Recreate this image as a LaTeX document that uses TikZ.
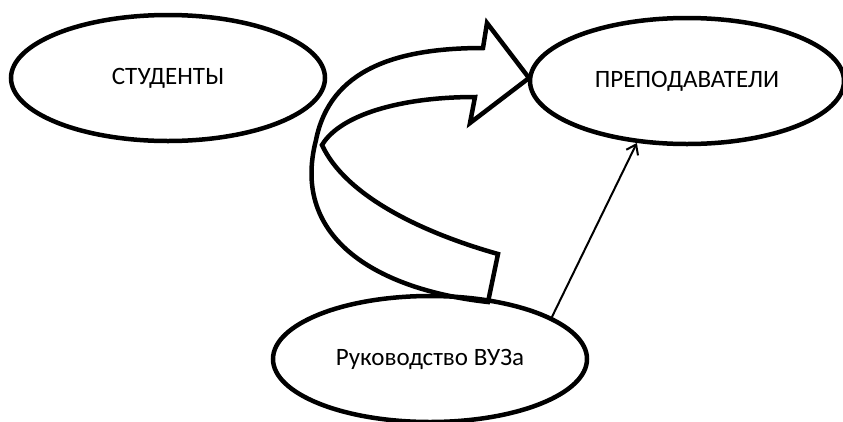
\documentclass[tikz,border=0pt]{standalone}
\usepackage{fontspec}
\setmainfont{Carlito}
\usepackage{tikz}
\usetikzlibrary{arrows.meta, shapes.geometric}

\begin{document}
\begin{tikzpicture}[x=1pt, y=-1pt, group/.style={ellipse, draw, line width=4.5pt, minimum width=314pt, minimum height=126pt, inner sep=0pt, font=\fontsize{25}{30}\selectfont}, bigarrow/.style={draw, line width=4.5pt, line join=miter}, >={Straight Barb[length=9pt,width=13pt]}]
        \useasboundingbox (0,0) rectangle (843,421);
        \node[group] (stud) at (168,78) {СТУДЕНТЫ};
        \node[group] (prep) at (687,81) {ПРЕПОДАВАТЕЛИ};
        \node[group] (vuz) at (430,359) {Руководство ВУЗа};

        % curved block arrow
        \draw[bigarrow] (488,302) -- (498,254)
            .. controls (420,232) and (345,195) .. (322,145)
            .. controls (340,115) and (400,97) .. (475,97)
            -- (470,123) -- (529,78) -- (487,23) -- (483,48)
            .. controls (395,48) and (330,70) .. (316,140)
            .. controls (290,240) and (380,290) .. cycle;

        \draw[->, line width=2pt] (vuz.19) -- (prep.231);
    \end{tikzpicture}
\end{document}
